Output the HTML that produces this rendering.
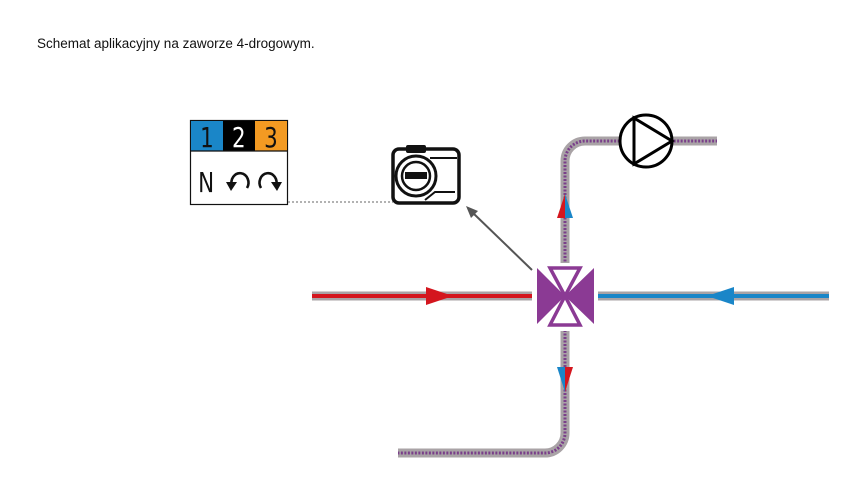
<!DOCTYPE html>
<html><head><style>
html,body{margin:0;padding:0;background:#fff;}
svg{display:block;}
</style></head><body>
<svg width="850" height="499" viewBox="0 0 850 499" xmlns="http://www.w3.org/2000/svg">
<rect width="850" height="499" fill="#fff"/>
<text x="37" y="48" font-family="Liberation Sans, sans-serif" font-size="13.5" fill="#111">Schemat aplikacyjny na zaworze 4-drogowym.</text>

<!-- legend -->
<rect x="190.5" y="120.5" width="97" height="84" fill="#fff" stroke="#111" stroke-width="1.2"/>
<rect x="191" y="121" width="32" height="30" fill="#1a86c8"/>
<rect x="223" y="121" width="32" height="30" fill="#000"/>
<rect x="255" y="121" width="32" height="30" fill="#f39a22"/>
<line x1="190" y1="151" x2="288" y2="151" stroke="#111" stroke-width="1.2"/>
<g font-family="DejaVu Sans Condensed, Liberation Sans Narrow, sans-serif" font-size="28" text-anchor="middle" transform="scale(0.85,1)">
<text x="243.5" y="147" fill="#111">1</text>
<text x="281" y="147" fill="#fff">2</text>
<text x="318.8" y="147" fill="#111">3</text>
<text x="242.5" y="192" fill="#111">N</text>
</g>
<path d="M232 186 A8.5 9.5 0 1 1 247 188" fill="none" stroke="#111" stroke-width="2.6"/>
<path d="M226 182 L237 182 L231 191 Z" fill="#111"/>
<path d="M276 186 A8.5 9.5 0 1 0 261 188" fill="none" stroke="#111" stroke-width="2.6"/>
<path d="M271 182 L282 182 L277 191 Z" fill="#111"/>
<line x1="288" y1="202" x2="393" y2="202" stroke="#999" stroke-width="1.5" stroke-dasharray="2,2"/>

<!-- actuator -->
<rect x="393" y="149" width="66" height="54" rx="6" fill="#fff" stroke="#111" stroke-width="3.5"/>
<rect x="406" y="145" width="20" height="8" rx="2" fill="#111"/>
<circle cx="416" cy="176" r="20" fill="#fff" stroke="#111" stroke-width="3"/>
<circle cx="416" cy="176" r="14" fill="#fff" stroke="#111" stroke-width="2.5"/>
<rect x="405" y="172" width="22" height="7" fill="#111"/>
<line x1="430" y1="158" x2="457" y2="158" stroke="#111" stroke-width="2"/>
<path d="M425 200 L435 192 L455 192" fill="none" stroke="#111" stroke-width="2"/>

<!-- arrow to actuator -->
<line x1="532" y1="270" x2="473" y2="213" stroke="#555" stroke-width="2"/>
<path d="M466 206 L478 211 L471 218 Z" fill="#555"/>

<!-- pipes -->
<g fill="none" stroke-linecap="butt">
<line x1="312" y1="296" x2="532" y2="296" stroke="#a9a3a6" stroke-width="9"/>
<line x1="312" y1="296" x2="532" y2="296" stroke="#d4161e" stroke-width="4"/>
<line x1="598" y1="296" x2="829" y2="296" stroke="#a9a3a6" stroke-width="9"/>
<line x1="598" y1="296" x2="829" y2="296" stroke="#1a86c8" stroke-width="4"/>
<path d="M565 265 V161 A20 20 0 0 1 585 141 H717" stroke="#a9a3a6" stroke-width="9"/>
<path d="M565 265 V161 A20 20 0 0 1 585 141 H717" stroke="#7a3f8a" stroke-width="3" stroke-dasharray="2,1.5"/>
<path d="M565 330 V433 A20 20 0 0 1 545 453 H398" stroke="#a9a3a6" stroke-width="9"/>
<path d="M565 330 V433 A20 20 0 0 1 545 453 H398" stroke="#7a3f8a" stroke-width="3" stroke-dasharray="2,1.5"/>
</g>
<path d="M426 287 L453 296 L426 305 Z" fill="#d4161e"/>
<path d="M734 287 L707 296 L734 305 Z" fill="#1a86c8"/>
<path d="M565 194 L557 218 L565 218 Z" fill="#d4161e"/>
<path d="M565 194 L573 218 L565 218 Z" fill="#1a86c8"/>
<path d="M565 392 L557 367 L565 367 Z" fill="#1a86c8"/>
<path d="M565 392 L573 367 L565 367 Z" fill="#d4161e"/>

<!-- pump -->
<circle cx="646" cy="141" r="26" fill="#fff" stroke="#000" stroke-width="3"/>
<path d="M634 118 L672 141 L634 164 Z" fill="none" stroke="#000" stroke-width="3"/>

<!-- valve -->
<rect x="533" y="263" width="64" height="68" fill="#fff"/>
<path d="M537 268 L565 296 L537 324 Z" fill="#8b3a94"/>
<path d="M594 268 L565 296 L594 324 Z" fill="#8b3a94"/>
<path d="M550 268 L580 268 L565 296 Z" fill="none" stroke="#8b3a94" stroke-width="3.5"/>
<path d="M550 325 L580 325 L565 296 Z" fill="none" stroke="#8b3a94" stroke-width="3.5"/>
</svg>
</body></html>
